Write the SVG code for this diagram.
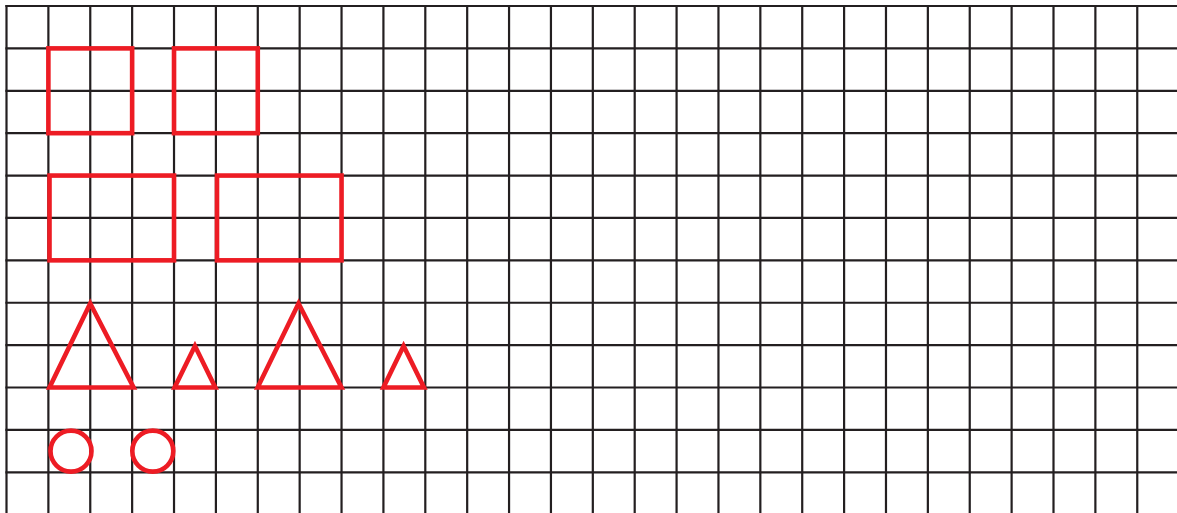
<svg xmlns="http://www.w3.org/2000/svg" width="1177" height="513" viewBox="0 0 1177 513">
<style>
.grid{fill:none;stroke:#231f20;stroke-width:2.2}
.shape{fill:none;stroke:#ed1c24;stroke-width:4.6;stroke-linejoin:miter}
</style>
<rect width="1177" height="513" fill="#ffffff"/>
<g id="grid" class="grid">
<path d="M6.5 5V513 M48.38 5V513 M90.26 5V513 M132.14 5V513 M174.02 5V513 M215.9 5V513 M257.78 5V513 M299.66 5V513 M341.54 5V513 M383.42 5V513 M425.3 5V513 M467.18 5V513 M509.06 5V513 M550.94 5V513 M592.82 5V513 M634.7 5V513 M676.58 5V513 M718.46 5V513 M760.34 5V513 M802.22 5V513 M844.1 5V513 M885.98 5V513 M927.86 5V513 M969.74 5V513 M1011.62 5V513 M1053.5 5V513 M1095.38 5V513 M1137.26 5V513"/>
<path d="M5.4 6H1177 M5.4 48.39H1177 M5.4 90.78H1177 M5.4 133.17H1177 M5.4 175.56H1177 M5.4 217.95H1177 M5.4 260.34H1177 M5.4 302.73H1177 M5.4 345.12H1177 M5.4 387.51H1177 M5.4 429.9H1177 M5.4 472.29H1177"/>
</g>
<g id="square1"><rect class="shape" x="48.38" y="48.39" width="83.76" height="84.78"/></g>
<g id="square2"><rect class="shape" x="174.02" y="48.39" width="83.76" height="84.78"/></g>
<g id="rect1"><rect class="shape" x="49.5" y="175.56" width="124.52" height="84.78"/></g>
<g id="rect2"><rect class="shape" x="217" y="175.56" width="124.54" height="84.78"/></g>
<g id="triangle1"><polygon class="shape" points="90.26,303.5 133.6,387.51 49.5,387.51"/></g>
<g id="triangle2"><polygon class="shape" points="194.96,346 215.3,387.51 174.6,387.51"/></g>
<g id="triangle3"><polygon class="shape" points="298.6,303.5 341.5,387.51 257.6,387.51"/></g>
<g id="triangle4"><polygon class="shape" points="403.6,346 424,387.51 383.4,387.51"/></g>
<g id="circle1"><circle class="shape" cx="71" cy="451.1" r="20.5"/></g>
<g id="circle2"><circle class="shape" cx="152.8" cy="451.1" r="20.5"/></g>
</svg>
